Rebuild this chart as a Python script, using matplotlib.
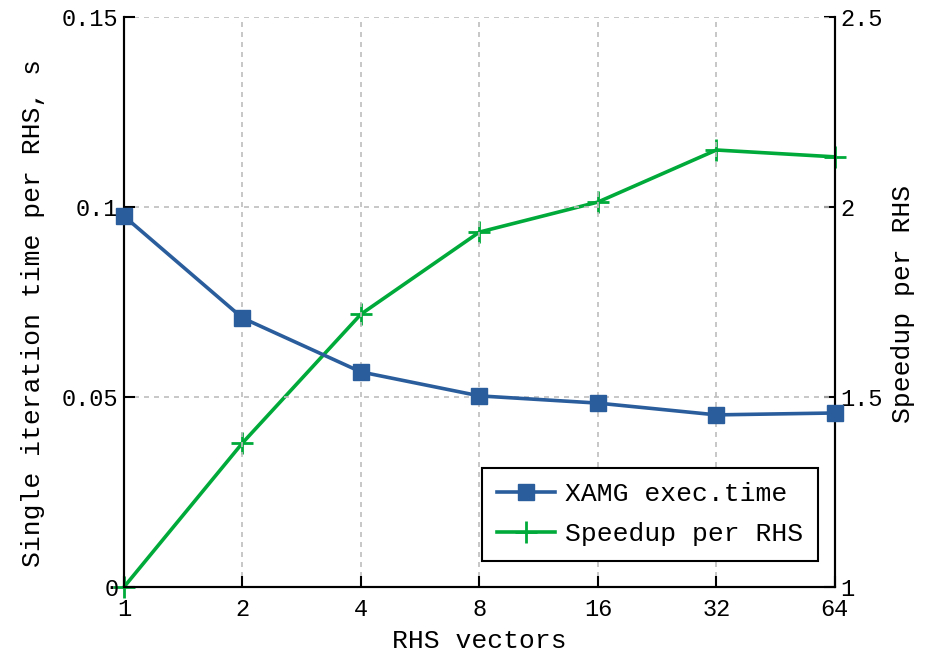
import numpy as np
import matplotlib
matplotlib.use('Agg')
import matplotlib.pyplot as plt

plt.rcParams['font.family'] = ['Liberation Mono', 'DejaVu Sans Mono']

# RHS vector counts and measurements
rhs_vectors = [1, 2, 4, 8, 16, 32, 64]
exec_time = [0.0976, 0.0708, 0.0566, 0.0503, 0.0484, 0.0453, 0.0458]
speedup = [1.0, 1.379, 1.718, 1.934, 2.013, 2.15, 2.132]
tick_labels = ['1', '2', '4', '8', '16', '32', '64']

blue = '#2a5d9c'
green = '#00aa3a'

fig = plt.figure(figsize=(9.28, 6.54), dpi=100)
ax = fig.add_axes([0.1336, 0.1024, 0.766, 0.8716])
ax2 = ax.twinx()

xpos = np.log2(rhs_vectors)

l1, = ax.plot(xpos, exec_time, color=blue, lw=2.6, marker='s', ms=11,
              label='XAMG exec.time', clip_on=False, zorder=3)
l2, = ax2.plot(xpos, speedup, color=green, lw=2.6, marker='+', ms=16, mew=2,
               label='Speedup per RHS', clip_on=False, zorder=3)

ax.set_xlim(xpos[0], xpos[-1])
ax.set_ylim(0, 0.15)
ax2.set_ylim(1, 2.5)
ax.set_xticks(xpos)
ax.set_xticklabels(tick_labels)
ax.set_yticks([0, 0.05, 0.1, 0.15])
ax.set_yticklabels(['0', '0.05', '0.1', '0.15'])
ax2.set_yticks([1, 1.5, 2, 2.5])
ax2.set_yticklabels(['1', '1.5', '2', '2.5'])

ax.grid(True, color='#bdbdbd', linestyle=(0, (3, 3)), lw=1.2)
ax.set_axisbelow(True)

for a in (ax, ax2):
    a.spines['top'].set_visible(False)
    for s in ('left', 'right', 'bottom'):
        a.spines[s].set_linewidth(1.5)
    a.tick_params(direction='in', length=8, width=1.5, labelsize=17, pad=4)
ax.tick_params(axis='x', pad=8)

ax.set_xlabel('RHS vectors', fontsize=19, labelpad=6)
ax.set_ylabel('Single iteration time per RHS, s', fontsize=19, labelpad=12)
ax.yaxis.label.set_y(0.48)
ax2.set_ylabel('Speedup per RHS', fontsize=19, labelpad=6)
ax2.yaxis.label.set_y(0.496)

leg = ax.legend(handles=[l1, l2], loc='lower right', fontsize=19,
                bbox_to_anchor=(0.976, 0.046), fancybox=False, framealpha=1,
                edgecolor='black', handlelength=2.2, handletextpad=0.4,
                borderpad=0.55, labelspacing=0.6, borderaxespad=0)
leg.get_frame().set_linewidth(1.5)
ax.set_zorder(ax2.get_zorder() + 1)
ax.patch.set_visible(False)

fig.savefig('out.png', dpi=100)
